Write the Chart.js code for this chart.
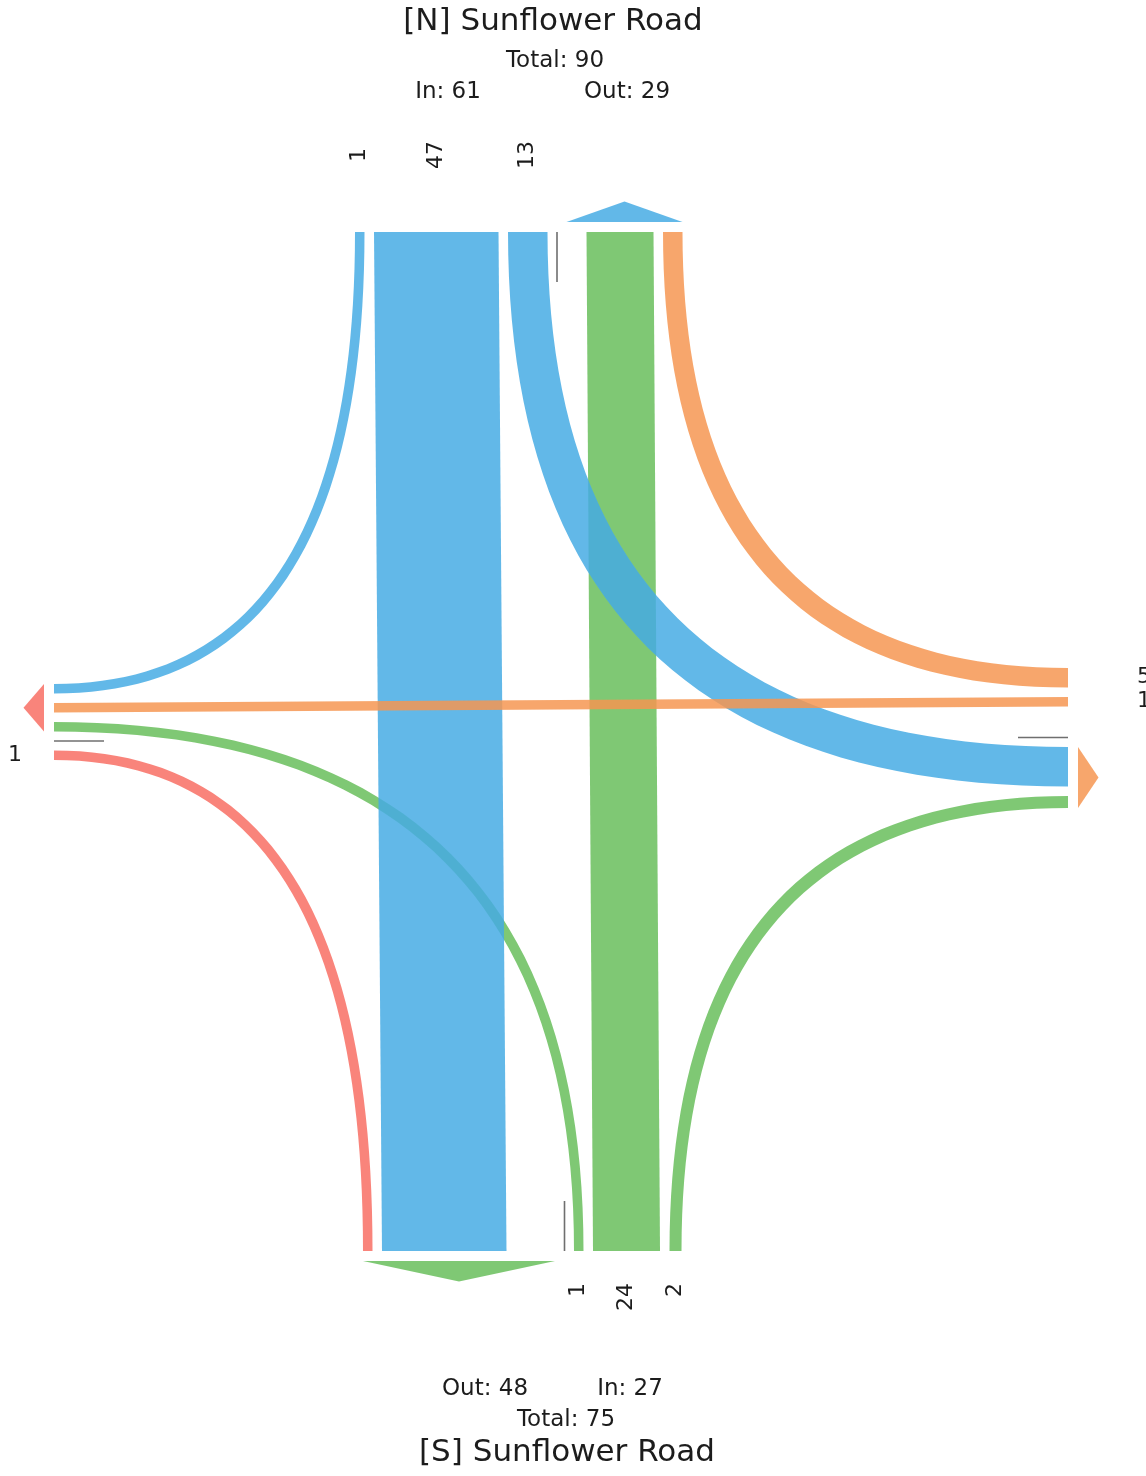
<!DOCTYPE html>
<html>
<head>
<meta charset="utf-8">
<script src="https://cdn.jsdelivr.net/npm/chart.js@4.4.0/dist/chart.umd.min.js"></script>
<style>
  body { margin: 0; background: #fff; }
  #wrap { width: 1146px; height: 1476px; position: relative; }
</style>
</head>
<body>
<div id="wrap"><canvas id="myChart"></canvas></div>
<script>
// turning movement counts
// every list is: right turn, through, left turn, u-turn
var moves = ['right', 'through', 'left', 'uturn'];
var northIn = [1, 47, 13, 0];
var southIn = [2, 24, 1, 0];
var eastIn = [5, 1, 0, 0];
var westIn = [1, 0, 0, 0];

var roadNames = { N: 'Sunflower Road', S: 'Sunflower Road' };

// where each movement ends up
var turnTo = {
    N: { right: 'W', through: 'S', left: 'E' },
    S: { right: 'E', through: 'N', left: 'W' },
    E: { right: 'N', through: 'W', left: 'S' },
    W: { right: 'S', through: 'E', left: 'N' }
};

var colors = {
    N: 'rgba(70, 172, 228, 0.85)',
    S: 'rgba(104, 190, 92, 0.85)',
    E: 'rgba(246, 150, 82, 0.85)',
    W: 'rgba(248, 110, 100, 0.85)'
};

// layout of the drawing
var box = { top: 232, bottom: 1251, left: 54, right: 1068 };
var GAP = 9.5;
var ZERO_SLOT = 12;
var PX_PER_VEH = 4;
var ARROW_GAP = 10, ARROW_LEN = 20.5, UTURN_LEN = 50;
var STEPS = 48;

var sides = {
    N: { start: 355, seq: ['in:right', 'in:through', 'in:left', 'uturn', 'out'], outOrder: ['S', 'E', 'W'], outAlign: 'end', labelOff: 77, labelAlign: 'center' },
    S: { start: 363, seq: ['out', 'uturn', 'in:left', 'in:through', 'in:right'], outOrder: ['W', 'N', 'E'], outAlign: 'start', labelOff: 32, labelAlign: 'right' },
    W: { start: 684, seq: ['out', 'uturn', 'in:right', 'in:through', 'in:left'], outOrder: ['N', 'E', 'S'], outAlign: 'start', labelOff: 32, labelAlign: 'right' },
    E: { start: 668, seq: ['in:right', 'in:through', 'in:left', 'uturn', 'out'], outOrder: ['N', 'S', 'W'], outAlign: 'end', labelOff: 69, labelAlign: 'left' }
};

var inVolumes = { N: northIn, S: southIn, E: eastIn, W: westIn };

function laneWidth(v) { return 7 + 2.5 * v; }
function isHoriz(k) { return k === 'N' || k === 'S'; }

function moveOf(from, to) {
    for (var i = 0; i < 3; i++) {
        if (turnTo[from][moves[i]] === to) return moves[i];
    }
    return null;
}
function flowVolume(from, to) {
    var m = moveOf(from, to);
    return m ? inVolumes[from][moves.indexOf(m)] : 0;
}
function inTotal(k) {
    return inVolumes[k].reduce(function (a, b) { return a + b; }, 0);
}
function outTotal(k) {
    return ['N', 'S', 'E', 'W'].reduce(function (a, o) { return a + (o === k ? 0 : flowVolume(o, k)); }, 0);
}

// stack the lanes along each side
Object.keys(sides).forEach(function (key) {
    var side = sides[key];
    var s = side.start;
    side.lanes = {};
    side.outLanes = {};
    side.seq.forEach(function (item, i) {
        if (i > 0) s += GAP;
        if (item === 'uturn') {
            side.uturn = s;
        } else if (item === 'out') {
            var origins = side.outOrder.filter(function (o) { return flowVolume(o, key) > 0; });
            var span = origins.reduce(function (a, o) { return a + laneWidth(flowVolume(o, key)); }, 0) + GAP * (origins.length - 1);
            var width = Math.max(span, PX_PER_VEH * outTotal(key));
            var c = side.outAlign === 'end' ? s + width - span : s;
            origins.forEach(function (o) {
                var w = laneWidth(flowVolume(o, key));
                side.outLanes[o] = [c, c + w];
                c += w + GAP;
            });
            side.arrow = [s, s + width];
            s += width;
        } else {
            var move = item.split(':')[1];
            var v = inVolumes[key][moves.indexOf(move)];
            var w = v > 0 ? laneWidth(v) : ZERO_SLOT;
            side.lanes[move] = [s, s + w];
            s += w;
        }
    });
});

function sidePoint(key, c, off) {
    off = off || 0;
    if (key === 'N') return { x: c, y: box.top - off };
    if (key === 'S') return { x: c, y: box.bottom + off };
    if (key === 'W') return { x: box.left - off, y: c };
    return { x: box.right + off, y: c };
}

function bandPoints(from, to) {
    var a = sides[from].lanes[moveOf(from, to)];
    var b = sides[to].outLanes[from];
    if (isHoriz(from) === isHoriz(to)) {
        return [sidePoint(from, a[0]), sidePoint(to, b[0]), sidePoint(to, b[1]), sidePoint(from, a[1])];
    }
    var H = isHoriz(from) ? from : to, V = isHoriz(from) ? to : from;
    var h = isHoriz(from) ? a : b, v = isHoriz(from) ? b : a;
    var yH = H === 'N' ? box.top : box.bottom;
    var xV = V === 'W' ? box.left : box.right;
    var hIn = Math.abs(h[0] - xV) < Math.abs(h[1] - xV) ? 0 : 1;
    var vIn = Math.abs(v[0] - yH) < Math.abs(v[1] - yH) ? 0 : 1;
    function edge(hx, vy) {
        var pts = [];
        for (var i = 0; i <= STEPS; i++) {
            var t = i / STEPS, u = 1 - t;
            pts.push({ x: hx * (1 - t * t) + t * t * xV, y: yH * u * u + vy * (1 - u * u) });
        }
        return pts;
    }
    return edge(h[hIn], v[vIn]).concat(edge(h[1 - hIn], v[1 - vIn]).reverse());
}

// borderDash keeps chart.js off its fast path, which merges points with the same x
function shape(points, color) {
    return {
        data: points, backgroundColor: color, borderColor: 'rgba(0,0,0,0)', borderWidth: 0,
        borderDash: [4, 0], fill: 'shape', pointRadius: 0, tension: 0
    };
}

// bottom to top
var layers = [];
['N', 'S', 'E', 'W'].forEach(function (k) {
    var p = sides[k].uturn;
    layers.push({
        data: [sidePoint(k, p), sidePoint(k, p, -UTURN_LEN)],
        borderColor: 'rgba(95, 95, 95, 0.9)', borderWidth: 1.6, fill: false, pointRadius: 0
    });
    var ar = sides[k].arrow;
    layers.push(shape([
        sidePoint(k, ar[0], ARROW_GAP),
        sidePoint(k, (ar[0] + ar[1]) / 2, ARROW_GAP + ARROW_LEN),
        sidePoint(k, ar[1], ARROW_GAP)
    ], colors[k]));
});
['W', 'S', 'N', 'E'].forEach(function (from) {
    ['right', 'through', 'left'].forEach(function (m) {
        var to = turnTo[from][m];
        if (flowVolume(from, to) > 0) layers.push(shape(bandPoints(from, to), colors[from]));
    });
});

var labelPlugin = {
    id: 'tmcLabels',
    afterDraw: function (chart) {
        var ctx = chart.ctx, sx = chart.scales.x, sy = chart.scales.y;
        function px(p) { return { x: sx.getPixelForValue(p.x), y: sy.getPixelForValue(p.y) }; }
        ctx.save();
        ctx.fillStyle = '#1c1c1c';
        ctx.textBaseline = 'middle';

        // lane counts
        ctx.font = '22px "DejaVu Sans"';
        Object.keys(sides).forEach(function (k) {
            var side = sides[k];
            moves.slice(0, 3).forEach(function (m, i) {
                var v = inVolumes[k][i];
                if (!v) return;
                var ln = side.lanes[m];
                var p = px(sidePoint(k, (ln[0] + ln[1]) / 2, side.labelOff));
                ctx.save();
                ctx.translate(p.x, p.y);
                if (isHoriz(k)) ctx.rotate(-Math.PI / 2);
                ctx.textAlign = side.labelAlign;
                ctx.fillText(String(v), 0, 0);
                ctx.restore();
            });
        });

        ctx.textAlign = 'center';
        function text(str, x, y, size) {
            ctx.font = size + 'px "DejaVu Sans"';
            var p = px({ x: x, y: y });
            ctx.fillText(str, p.x, p.y);
        }
        text('[N] ' + roadNames.N, 553, 22, 31);
        text('Total: ' + (inTotal('N') + outTotal('N')), 555, 61, 23);
        text('In: ' + inTotal('N'), 448, 92, 23);
        text('Out: ' + outTotal('N'), 627, 92, 23);

        text('Out: ' + outTotal('S'), 485, 1389, 23);
        text('In: ' + inTotal('S'), 630, 1389, 23);
        text('Total: ' + (inTotal('S') + outTotal('S')), 566, 1420, 23);
        text('[S] ' + roadNames.S, 567, 1453, 31);
        ctx.restore();
    }
};

var ctx = document.getElementById('myChart').getContext('2d');
var myChart = new Chart(ctx, {
    type: 'line',
    data: { datasets: layers.slice().reverse() },
    options: {
        responsive: true,
        maintainAspectRatio: false,
        animation: false,
        events: [],
        layout: { padding: 0 },
        scales: {
            x: { type: 'linear', min: 0, max: 1146, display: false },
            y: { type: 'linear', min: 0, max: 1476, reverse: true, display: false }
        },
        plugins: {
            legend: { display: false },
            tooltip: { enabled: false }
        }
    },
    plugins: [labelPlugin]
});
</script>
</body>
</html>
